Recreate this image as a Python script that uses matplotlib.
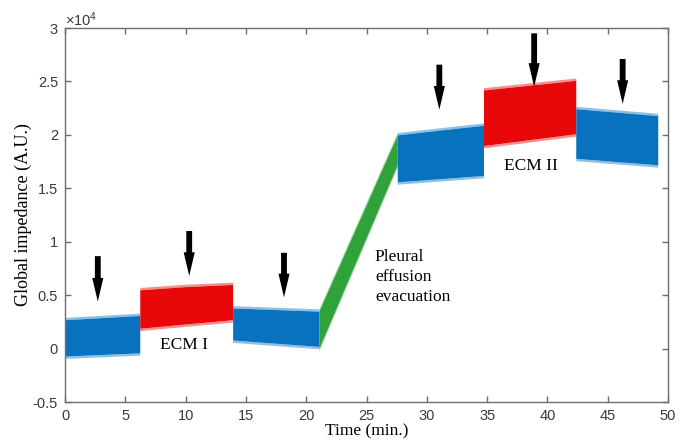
import matplotlib
matplotlib.use("Agg")
import matplotlib.pyplot as plt
from matplotlib.patches import FancyArrowPatch, ArrowStyle

plt.rcParams['axes.unicode_minus'] = False
plt.rcParams['mathtext.fontset'] = 'custom'
plt.rcParams['mathtext.rm'] = 'Liberation Sans'
plt.rcParams['mathtext.it'] = 'Liberation Sans'

# ---- data (values in units of 1e4 A.U.), envelopes ----
blue1_x = [0.0, 6.2]
blue1_hi = [0.27, 0.31]
blue1_lo = [-0.07, -0.04]

red1_x = [6.2, 10.0, 13.9]
red1_hi = [0.55, 0.58, 0.60]
red1_lo = [0.19, 0.23, 0.27]

blue2_x = [13.9, 21.05]
blue2_hi = [0.38, 0.35]
blue2_lo = [0.08, 0.02]

green_x = [21.05, 27.55]
green_hi = [0.35, 2.0]
green_lo = [0.0, 1.72]

blue3_x = [27.55, 34.7]
blue3_hi = [2.0, 2.09]
blue3_lo = [1.56, 1.62]

red2_x = [34.7, 42.35]
red2_hi = [2.42, 2.51]
red2_lo = [1.90, 2.01]

blue4_x = [42.35, 49.15]
blue4_hi = [2.245, 2.18]
blue4_lo = [1.78, 1.72]

arrow_x = [2.72, 10.3, 18.16, 31.04, 38.9, 46.24]
arrow_top = [0.865, 1.10, 0.896, 2.657, 2.95, 2.71]
arrow_tip = [0.44, 0.68, 0.48, 2.236, 2.45, 2.29]

x_ticks = [0, 5, 10, 15, 20, 25, 30, 35, 40, 45, 50]
y_ticks = [-0.5, 0, 0.5, 1, 1.5, 2, 2.5, 3]
y_tick_labels = ['-0.5', '0', '0.5', '1', '1.5', '2', '2.5', '3']

BLUE = '#0872be'
RED = '#e8080a'
GREEN = '#2fa33a'

fig = plt.figure(figsize=(6.88, 4.41), dpi=100)
ax = fig.add_axes([65/688, 39/441, 603/688, 374/441])

segments = [
    (blue1_x, blue1_lo, blue1_hi, BLUE),
    (red1_x, red1_lo, red1_hi, RED),
    (blue2_x, blue2_lo, blue2_hi, BLUE),
    (green_x, green_lo, green_hi, GREEN),
    (blue3_x, blue3_lo, blue3_hi, BLUE),
    (red2_x, red2_lo, red2_hi, RED),
    (blue4_x, blue4_lo, blue4_hi, BLUE),
]
fuzz = 0.022
for xs, lo, hi, c in segments:
    ax.fill_between(xs, lo, hi, color=c, lw=0, zorder=2)
    ax.fill_between(xs, hi, [h + fuzz for h in hi], color=c, alpha=0.45, lw=0, zorder=2)
    ax.fill_between(xs, [l - fuzz for l in lo], lo, color=c, alpha=0.45, lw=0, zorder=2)

style = ArrowStyle.Simple(head_length=17, head_width=8.0, tail_width=4.2)
for x, t, b in zip(arrow_x, arrow_top, arrow_tip):
    ax.add_patch(FancyArrowPatch((x, t), (x, b), arrowstyle=style, mutation_scale=1,
                                 color='black', shrinkA=0, shrinkB=0, lw=0, zorder=4))

ax.set_xlim(0, 50)
ax.set_ylim(-0.5, 3)
ax.set_xticks(x_ticks)
ax.set_xticklabels([str(v) for v in x_ticks])
ax.set_yticks(y_ticks)
ax.set_yticklabels(y_tick_labels)

axis_color = '#6e6e6e'
for s in ax.spines.values():
    s.set_color(axis_color)
    s.set_linewidth(1.0)
ax.tick_params(direction='in', length=4, width=1, color=axis_color,
               top=True, right=True, labelsize=10.5, labelcolor='#3a3a3a', pad=5)
for lab in ax.get_xticklabels() + ax.get_yticklabels():
    lab.set_fontfamily('Liberation Sans')

ax.text(0.0, 0.996, r'$\times10^{4}$', transform=ax.transAxes, ha='left', va='bottom',
        fontsize=10.5, color='#3a3a3a')

serif = 'Liberation Serif'
ax.set_xlabel('Time (min.)', fontfamily=serif, fontsize=12.5, labelpad=0)
ax.set_ylabel('Global impedance (A.U.)', fontfamily=serif, fontsize=13, labelpad=0.5)

ax.text(9.9, 0.034, 'ECM I', fontfamily=serif, fontsize=12.5, ha='center', va='center')
ax.text(38.64, 1.707, 'ECM II', fontfamily=serif, fontsize=12.5, ha='center', va='center')
ax.text(25.7, 0.672, 'Pleural\neffusion\nevacuation', fontfamily=serif, fontsize=12.5,
        ha='left', va='center', linespacing=1.35)

fig.savefig('out.png', dpi=100)
